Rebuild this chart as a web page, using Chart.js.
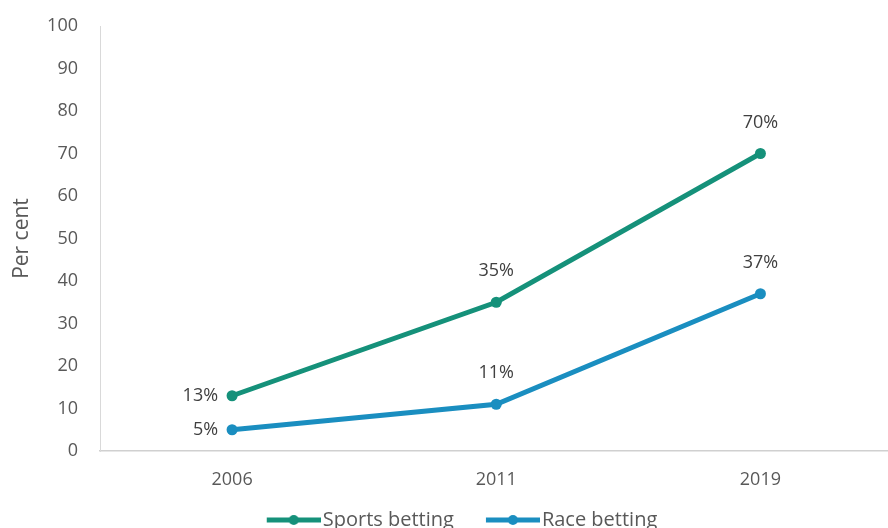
<!DOCTYPE html>
<html><head><meta charset="utf-8">
<script src="https://cdn.jsdelivr.net/npm/chart.js@4"></script>
<style>html,body{margin:0;padding:0;background:#fff;overflow:hidden}#wrap{width:888px;height:528px;overflow:hidden}</style>
</head><body><div id="wrap"><canvas id="c" width="898" height="540"></canvas></div>
<script>
const categories = ['2006', '2011', '2019'];
const sportsBetting = [13, 35, 70];
const raceBetting = [5, 11, 37];
const yTicks = [0, 10, 20, 30, 40, 50, 60, 70, 80, 90, 100];
const seriesNames = ['Sports betting', 'Race betting'];
const colors = ['#15917a', '#1a8ec0'];
const FONT = '"Open Sans", "Noto Sans", sans-serif';
const LEGEND_FONT = 20;
const LEGEND_BOX = 74;

function legendIcon(color) {
  const W = LEGEND_BOX + LEGEND_FONT - 4;
  const c = document.createElement('canvas');
  c.width = W; c.height = 14;
  const g = c.getContext('2d');
  g.strokeStyle = color; g.lineWidth = 5; g.lineCap = 'butt';
  g.beginPath(); g.moveTo(W - 54, 7); g.lineTo(W, 7); g.stroke();
  g.fillStyle = color; g.beginPath(); g.arc(W - 27, 7, 5, 0, Math.PI * 2); g.fill();
  return c;
}

const labelPlugin = {
  id: 'pctLabels',
  afterDatasetsDraw(chart) {
    const ctx = chart.ctx;
    ctx.save();
    ctx.font = '18px ' + FONT;
    ctx.fillStyle = '#404040';
    ctx.textBaseline = 'middle';
    chart.data.datasets.forEach((ds, di) => {
      const meta = chart.getDatasetMeta(di);
      meta.data.forEach((pt, i) => {
        const txt = ds.data[i] + '%';
        if (i === 0) {
          ctx.textAlign = 'right';
          ctx.fillText(txt, pt.x - 14, pt.y);
        } else {
          ctx.textAlign = 'center';
          ctx.fillText(txt, pt.x, pt.y - 31);
        }
      });
    });
    ctx.restore();
  }
};

new Chart(document.getElementById('c'), {
  type: 'line',
  data: {
    labels: categories,
    datasets: [
      { label: seriesNames[0], data: sportsBetting, borderColor: colors[0], backgroundColor: colors[0], borderWidth: 5, pointRadius: 5.5, pointHoverRadius: 5.5, pointBackgroundColor: colors[0], pointBorderWidth: 0, fill: false, tension: 0 },
      { label: seriesNames[1], data: raceBetting, borderColor: colors[1], backgroundColor: colors[1], borderWidth: 5, pointRadius: 5.5, pointHoverRadius: 5.5, pointBackgroundColor: colors[1], pointBorderWidth: 0, fill: false, tension: 0 }
    ]
  },
  options: {
    responsive: false,
    animation: false,
    devicePixelRatio: 1,
    layout: { padding: { top: 26, right: 2, left: 0, bottom: 0 } },
    plugins: {
      tooltip: { enabled: false },
      legend: {
        position: 'bottom',
        labels: {
          usePointStyle: true,
          pointStyleWidth: LEGEND_BOX,
          padding: 4,
          font: { family: FONT, size: LEGEND_FONT },
          color: '#595959',
          generateLabels(chart) {
            return chart.data.datasets.map((ds, i) => ({
              text: ds.label,
              pointStyle: legendIcon(colors[i]),
              fillStyle: colors[i],
              strokeStyle: colors[i],
              lineWidth: 0,
              hidden: false,
              datasetIndex: i,
              fontColor: '#595959'
            }));
          }
        }
      }
    },
    scales: {
      x: {
        offset: true,
        grid: { display: false },
        border: { display: true, color: '#d0d0d0', width: 1.5 },
        ticks: { color: '#595959', font: { family: FONT, size: 18 }, padding: 10, maxRotation: 0 },
        afterFit(s) { s.height = 55; }
      },
      y: {
        min: 0, max: 100,
        grid: { display: false },
        border: { display: true, color: '#d9d9d9', width: 1 },
        afterBuildTicks(s) { s.ticks = yTicks.map(v => ({ value: v })); },
        ticks: { color: '#595959', font: { family: FONT, size: 18 }, padding: 14 },
        title: { display: true, text: 'Per cent', color: '#595959', font: { family: FONT, size: 21 }, padding: { top: 9, bottom: 0 } },
        afterFit(s) { s.width = 100; }
      }
    }
  },
  plugins: [labelPlugin]
});
</script>
</body></html>
